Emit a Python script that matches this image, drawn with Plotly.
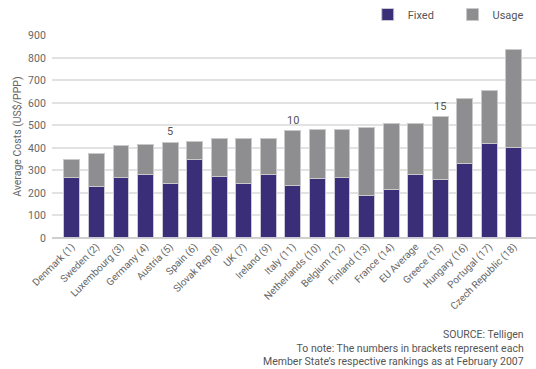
import plotly.graph_objects as go

categories = ["Denmark (1)", "Sweden (2)", "Luxembourg (3)", "Germany (4)", "Austria (5)",
              "Spain (6)", "Slovak Rep (8)", "UK (7)", "Ireland (9)", "Italy (11)",
              "Netherlands (10)", "Belgium (12)", "Finland (13)", "France (14)", "EU Average",
              "Greece (15)", "Hungary (16)", "Portugal (17)", "Czech Republic (18)"]
fixed = [267, 227, 267, 284, 241, 350, 273, 241, 284, 232, 262, 267, 187, 216, 284, 258, 332, 420, 400]
total = [350, 375, 411, 416, 426, 430, 442, 442, 442, 477, 483, 483, 492, 507, 507, 538, 620, 655, 839]
usage = [t - f for t, f in zip(total, fixed)]
rank_labels = {"Austria (5)": "5", "Italy (11)": "10", "Greece (15)": "15"}

FONT = "Roboto"
fig = go.Figure()
fig.add_bar(x=categories, y=fixed, name="Fixed" + "\u00a0" * 5,
            marker=dict(color="#3a2e78", line=dict(color="#c9c9d6", width=1)))
fig.add_bar(x=categories, y=usage, name="Usage",
            marker=dict(color="#8e8e90", line=dict(color="#c9c9c9", width=1)))

for cat, lab in rank_labels.items():
    i = categories.index(cat)
    fig.add_annotation(x=cat, y=total[i], text=lab, showarrow=False, yanchor="bottom", yshift=2,
                       font=dict(family=FONT, size=11, color="#555"))

fig.add_annotation(xref="paper", yref="paper", x=0.98, y=-0.435, xanchor="right", yanchor="top", align="right",
                   showarrow=False,
                   text="SOURCE: Telligen<br>To note: The numbers in brackets represent each<br>Member State\u2019s respective rankings as at February 2007",
                   font=dict(family=FONT, size=10.5, color="#555"))

fig.update_layout(
    width=536, height=369, barmode="stack", bargap=0.35,
    margin=dict(l=52, r=0, t=32, b=131),
    paper_bgcolor="white", plot_bgcolor="white",
    font=dict(family=FONT, size=10, color="#666"),
    legend=dict(orientation="h", x=0.985, xanchor="right", y=1.0, yanchor="top", yref="container",
                font=dict(size=11, color="#555"), itemwidth=30, traceorder="normal"),
    xaxis=dict(tickangle=-45, range=[-0.81, 18.9], showgrid=False, ticks="",
               tickfont=dict(size=10, color="#666")),
    yaxis=dict(range=[0, 900], dtick=100, gridcolor="#e2e2e2", gridwidth=1.5, zeroline=True,
               zerolinecolor="#cfcfcf", zerolinewidth=1.5, ticks="", ticksuffix="  ",
               title=dict(text="Average Costs (US$/PPP)", font=dict(size=10.5, color="#666"), standoff=4),
               tickfont=dict(size=10.5, color="#666")),
)
fig.write_html("out.html")
